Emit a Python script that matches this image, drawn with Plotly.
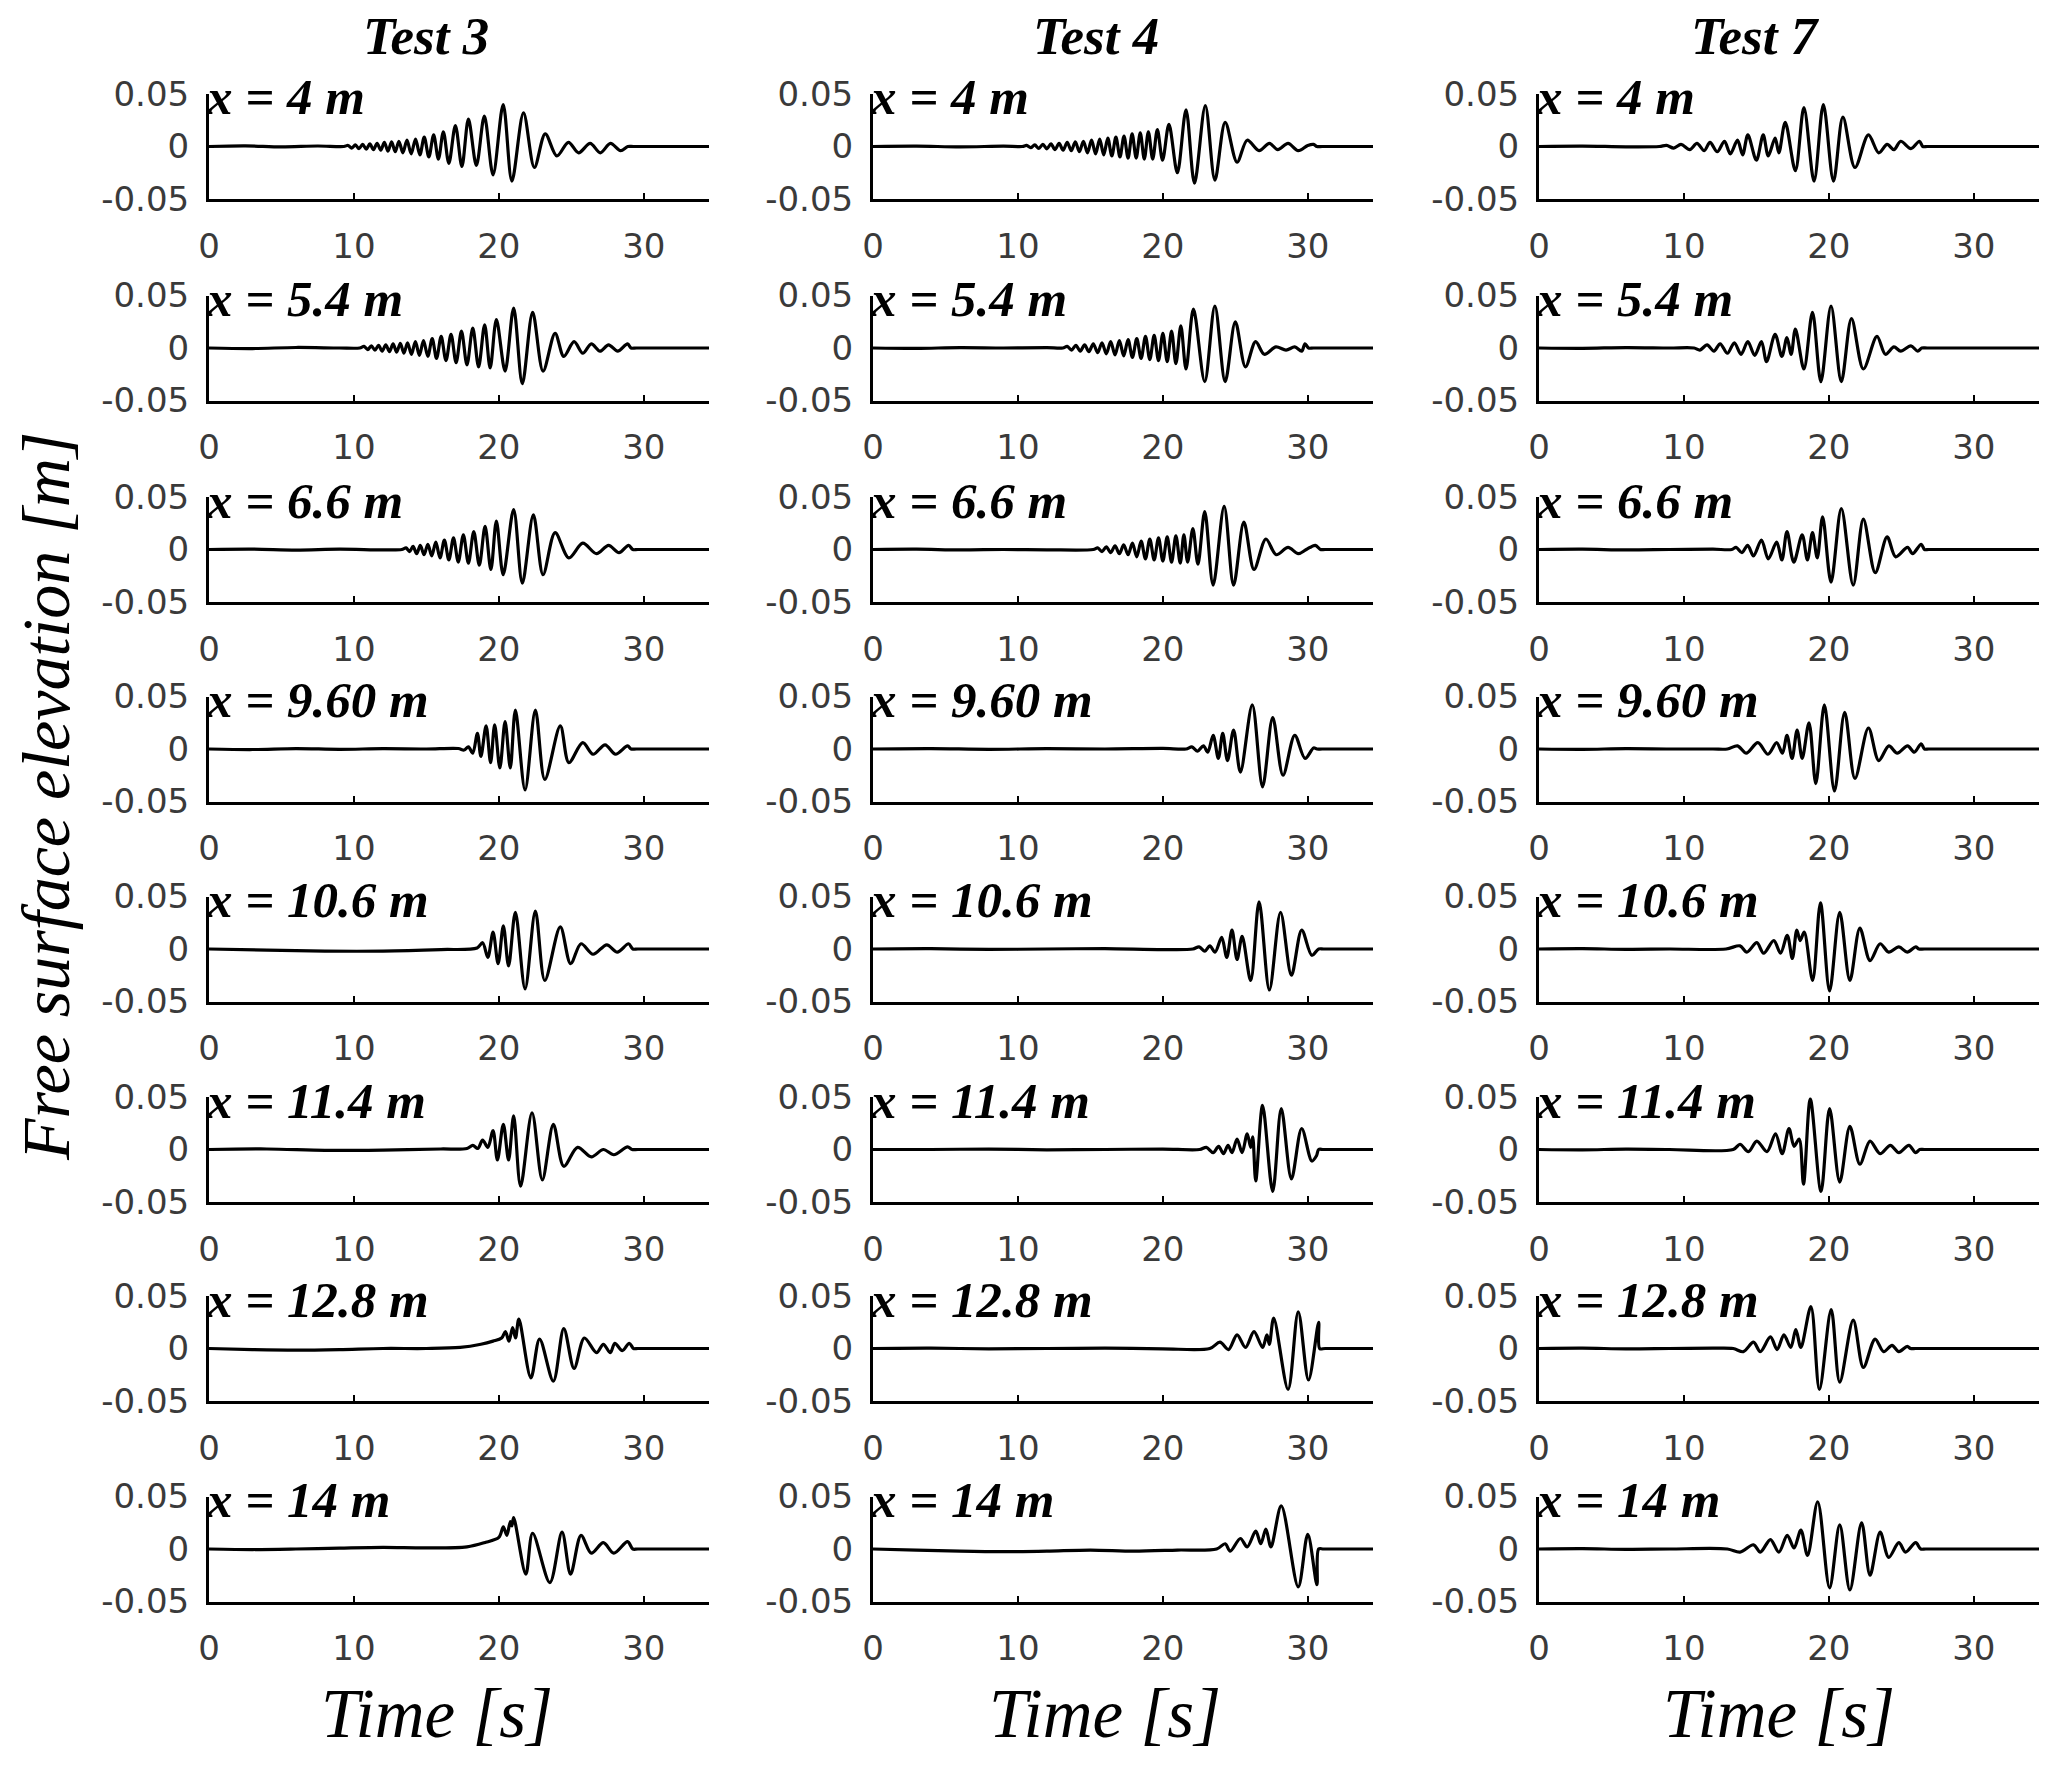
import plotly.graph_objects as go

# ---------------- data: (time [s], free surface elevation [m]) ----------------
TEST_TITLES = ["Test 3", "Test 4", "Test 7"]
GAUGE_LABELS = ["x = 4 m", "x = 5.4 m", "x = 6.6 m", "x = 9.60 m",
                "x = 10.6 m", "x = 11.4 m", "x = 12.8 m", "x = 14 m"]
X_TICKS = [0, 10, 20, 30]
Y_TICKS = [-0.05, 0, 0.05]
Y_TICK_TEXT = ["-0.05", "0", "0.05"]

# ---- Test 3 ----
T3_X4 = [(0, 0), (2.5, 0.0006), (5, -0.0004), (7.5, 0.0005), (9.3, 0), (9.6, 0.001), (9.85, -0.0015),
         (10.1, 0.0015), (10.35, -0.002), (10.6, 0.002), (10.85, -0.0025), (11.1, 0.0025), (11.35, -0.003),
         (11.6, 0.003), (11.85, -0.0035), (12.1, 0.004), (12.35, -0.0045), (12.6, 0.0045), (12.85, -0.005),
         (13.1, 0.005), (13.38, -0.006), (13.66, 0.006), (13.95, -0.007), (14.25, 0.007), (14.55, -0.008),
         (14.85, 0.009), (15.17, -0.010), (15.5, 0.011), (15.83, -0.012), (16.17, 0.014), (16.55, -0.016),
         (17.0, 0.020), (17.45, -0.019), (17.9, 0.026), (18.45, -0.018), (19.0, 0.029), (19.6, -0.027),
         (20.3, 0.040), (20.9, -0.033), (21.7, 0.032), (22.45, -0.020), (23.2, 0.012), (24.0, -0.009),
         (24.8, 0.004), (25.5, -0.006), (26.3, 0.003), (27.0, -0.006), (27.7, 0.003), (28.4, -0.004),
         (28.9, 0), (29.3, 0), (35, 0)]
T3_X5_4 = [(0, 0), (3, -0.0005), (6, 0.0005), (9, 0), (10.4, 0), (10.7, 0.0015), (10.95, -0.0015),
           (11.2, 0.002), (11.45, -0.002), (11.7, 0.0025), (11.95, -0.003), (12.2, 0.003), (12.45, -0.0035),
           (12.7, 0.004), (12.95, -0.004), (13.2, 0.0045), (13.45, -0.005), (13.7, 0.005), (13.97, -0.006),
           (14.24, 0.006), (14.52, -0.007), (14.8, 0.007), (15.1, -0.008), (15.4, 0.009), (15.7, -0.010),
           (16.02, 0.011), (16.35, -0.012), (16.7, 0.013), (17.05, -0.014), (17.42, 0.016), (17.8, -0.016),
           (18.2, 0.019), (18.6, -0.018), (19.02, 0.022), (19.4, -0.019), (19.83, 0.027), (20.43, -0.022),
           (21.02, 0.038), (21.62, -0.034), (22.33, 0.034), (23.05, -0.022), (23.88, 0.014), (24.48, -0.008),
           (25.19, 0.006), (25.79, -0.005), (26.38, 0.004), (26.98, -0.003), (27.57, 0.003), (28.2, -0.003),
           (28.88, 0.004), (29.12, 0), (29.5, 0), (35, 0)]
T3_X6_6 = [(0, 0), (3, 0.0004), (6, -0.0005), (9, 0.0003), (12, -0.0003), (13.3, 0), (13.6, 0.0015),
           (13.84, -0.002), (14.08, 0.003), (14.33, -0.004), (14.58, 0.004), (14.84, -0.005), (15.1, 0.005),
           (15.37, -0.006), (15.65, 0.007), (15.94, -0.008), (16.24, 0.009), (16.55, -0.010), (16.87, 0.011),
           (17.2, -0.012), (17.55, 0.014), (17.9, -0.013), (18.27, 0.017), (18.65, -0.015), (19.05, 0.022),
           (19.45, -0.019), (19.83, 0.027), (20.3, -0.024), (21.02, 0.038), (21.62, -0.032), (22.38, 0.033),
           (23.05, -0.024), (23.88, 0.016), (24.83, -0.008), (25.79, 0.006), (26.74, -0.004), (27.57, 0.004),
           (28.29, -0.003), (28.95, 0.004), (29.24, 0), (29.6, 0), (35, 0)]
T3_X9_6 = [(0, 0), (3, -0.0005), (6, 0.0004), (9, -0.0003), (12, 0.0003), (15, 0), (17.2, 0.0005),
           (17.6, -0.001), (17.9, 0.002), (18.2, -0.004), (18.52, 0.015), (18.76, -0.007), (19.12, 0.022),
           (19.43, -0.013), (19.71, 0.023), (20.07, -0.018), (20.43, 0.026), (20.79, -0.018), (21.14, 0.037),
           (21.81, -0.039), (22.52, 0.037), (23.17, -0.029), (24.24, 0.022), (24.83, -0.013), (25.79, 0.006),
           (26.5, -0.005), (27.33, 0.004), (28.05, -0.005), (28.88, 0.003), (29.12, 0), (29.5, 0), (35, 0)]
T3_X10_6 = [(0, 0), (4, -0.001), (8, -0.002), (12, -0.002), (16, -0.0005), (18.5, 0.001), (18.88, 0.006),
            (19.24, -0.008), (19.6, 0.016), (19.95, -0.014), (20.31, 0.022), (20.67, -0.016), (21.14, 0.035),
            (21.81, -0.038), (22.52, 0.036), (23.17, -0.030), (24.24, 0.021), (24.95, -0.014), (25.67, 0.005),
            (26.5, -0.005), (27.45, 0.004), (28.17, -0.003), (28.95, 0.005), (29.24, 0), (29.6, 0), (35, 0)]
T3_X11_4 = [(0, 0), (4, 0.0005), (8, -0.0008), (12, -0.0005), (16, 0.0005), (17.8, 0.001), (18.2, 0.004),
            (18.55, 0.001), (18.88, 0.009), (19.24, 0.002), (19.6, 0.018), (19.9, -0.010), (20.31, 0.024),
            (20.67, -0.010), (21.02, 0.032), (21.5, -0.035), (22.29, 0.035), (23.0, -0.029), (23.76, 0.024),
            (24.48, -0.016), (25.43, 0.002), (26.38, -0.007), (27.21, 0.0), (27.93, -0.005), (28.88, 0.0025),
            (29.19, 0), (29.6, 0), (35, 0)]
T3_X12_8 = [(0, 0), (3, -0.001), (6, -0.0015), (9, -0.001), (12, 0), (15, 0), (17.33, 0.001), (18.76, 0.004),
            (19.6, 0.007), (20.19, 0.010), (20.45, 0.016), (20.7, 0.007), (20.95, 0.020), (21.15, 0.010),
            (21.38, 0.028), (22.21, -0.028), (22.81, 0.009), (23.76, -0.031), (24.48, 0.019), (25.19, -0.019),
            (25.9, 0.010), (26.74, -0.004), (27.21, 0.004), (27.69, -0.004), (28.0, 0.005), (28.52, -0.002),
            (29.0, 0.005), (29.29, 0), (29.6, 0), (35, 0)]
T3_X14 = [(0, 0), (3, -0.0005), (6, 0), (9, 0.0008), (12, 0.0015), (15, 0.001), (17.8, 0.002), (19.0, 0.006),
          (20.0, 0.011), (20.31, 0.021), (20.55, 0.013), (20.79, 0.026), (20.9, 0.022), (21.02, 0.030),
          (21.86, -0.024), (22.33, 0.015), (23.52, -0.032), (24.36, 0.016), (24.95, -0.024), (25.67, 0.013),
          (26.38, -0.004), (27.21, 0.006), (27.93, -0.004), (28.88, 0.007), (29.24, 0), (29.6, 0), (35, 0)]

# ---- Test 4 ----
T4_X4 = [(0, 0), (3, 0.0004), (6, -0.0004), (9, 0.0003), (10.3, 0), (10.6, 0.001), (10.88, -0.0012),
         (11.16, 0.0015), (11.44, -0.0018), (11.72, 0.002), (12.0, -0.0022), (12.28, 0.0025), (12.56, -0.003),
         (12.84, 0.003), (13.12, -0.0035), (13.4, 0.004), (13.68, -0.004), (13.96, 0.0045), (14.24, -0.005),
         (14.52, 0.005), (14.8, -0.006), (15.08, 0.006), (15.36, -0.007), (15.64, 0.007), (15.92, -0.008),
         (16.2, 0.008), (16.48, -0.009), (16.76, 0.009), (17.04, -0.010), (17.32, 0.010), (17.6, -0.011),
         (17.88, 0.012), (18.16, -0.011), (18.44, 0.013), (18.72, -0.012), (19.0, 0.014), (19.3, -0.012),
         (19.62, 0.016), (19.98, -0.013), (20.42, 0.021), (21.0, -0.025), (21.6, 0.035), (22.18, -0.035),
         (22.93, 0.039), (23.59, -0.032), (24.3, 0.023), (25.12, -0.015), (25.82, 0.006), (26.64, -0.004),
         (27.35, 0.003), (27.93, -0.003), (28.64, 0.003), (29.34, -0.004), (30.0, 0.001), (30.4, 0.002),
         (30.63, 0), (31, 0), (35, 0)]
T4_X5_4 = [(0, 0), (3, -0.0004), (6, 0.0004), (9, 0), (12, 0.0003), (13.1, 0), (13.4, 0.0015), (13.7, -0.002),
           (14.0, 0.0025), (14.3, -0.003), (14.6, 0.003), (14.9, -0.0035), (15.2, 0.004), (15.5, -0.0045),
           (15.8, 0.005), (16.1, -0.0055), (16.4, 0.006), (16.7, -0.0065), (17.0, 0.007), (17.3, -0.0075),
           (17.6, 0.008), (17.9, -0.009), (18.2, 0.009), (18.5, -0.010), (18.8, 0.011), (19.1, -0.011),
           (19.4, 0.012), (19.7, -0.012), (20.0, 0.014), (20.3, -0.013), (20.6, 0.016), (20.9, -0.015),
           (21.24, 0.021), (21.6, -0.020), (22.11, 0.037), (22.89, -0.032), (23.59, 0.040), (24.3, -0.032),
           (25.0, 0.025), (25.7, -0.018), (26.4, 0.006), (27.0, -0.006), (27.8, 0.001), (28.5, -0.002),
           (29.1, 0.001), (29.58, -0.003), (29.81, 0.004), (30.05, 0), (30.4, 0), (35, 0)]
T4_X6_6 = [(0, 0), (3, 0.0003), (6, -0.0004), (9, 0), (12, -0.0003), (15.2, 0), (15.5, 0.0015), (15.8, -0.002),
           (16.1, 0.0025), (16.4, -0.003), (16.7, 0.0035), (17.0, -0.004), (17.3, 0.0045), (17.6, -0.005),
           (17.9, 0.006), (18.2, -0.007), (18.5, 0.008), (18.8, -0.009), (19.1, 0.010), (19.4, -0.010),
           (19.7, 0.011), (20.0, -0.011), (20.3, 0.012), (20.6, -0.012), (20.9, 0.013), (21.2, -0.013),
           (21.45, 0.014), (21.71, -0.012), (22.07, 0.020), (22.42, -0.014), (22.89, 0.036), (23.47, -0.034),
           (24.23, 0.041), (24.88, -0.034), (25.59, 0.026), (26.29, -0.019), (27.11, 0.010), (27.82, -0.005),
           (28.64, 0.002), (29.34, -0.004), (29.9, 0), (30.52, 0.004), (30.87, 0), (31.2, 0), (35, 0)]
T4_X9_6 = [(0, 0), (4, 0.0004), (8, -0.0003), (12, 0.0003), (16, 0), (20, 0.0005), (21.6, 0), (22.0, 0.002),
           (22.4, -0.002), (22.8, 0.003), (23.1, -0.003), (23.47, 0.013), (23.83, -0.009), (24.13, 0.015),
           (24.46, -0.011), (24.88, 0.018), (25.35, -0.022), (26.17, 0.042), (26.88, -0.036), (27.58, 0.030),
           (28.29, -0.025), (29.1, 0.013), (29.81, -0.009), (30.4, 0.001), (30.63, 0), (31, 0), (35, 0)]
T4_X10_6 = [(0, 0), (4, 0.0003), (8, -0.0004), (12, 0), (16, 0.0003), (20, -0.0005), (22.07, 0), (22.5, 0.002),
            (22.9, -0.002), (23.24, 0.003), (23.6, -0.003), (24.06, 0.011), (24.41, -0.008), (24.77, 0.018),
            (25.12, -0.010), (25.47, 0.012), (26.06, -0.030), (26.64, 0.045), (27.35, -0.039), (28.12, 0.035),
            (28.87, -0.025), (29.58, 0.018), (30.28, -0.006), (30.75, 0), (31.1, 0), (35, 0)]
T4_X11_4 = [(0, 0), (4, 0), (8, 0.0004), (12, -0.0003), (16, 0), (20, 0.0004), (22.54, 0), (23.0, 0.002),
            (23.47, -0.003), (23.85, 0.003), (24.18, -0.004), (24.5, 0.004), (24.77, -0.003), (25.12, 0.010),
            (25.47, -0.003), (25.82, 0.015), (26.06, 0.002), (26.2, 0.012), (26.41, -0.030), (26.88, 0.042),
            (27.58, -0.040), (28.17, 0.039), (28.87, -0.028), (29.58, 0.020), (30.28, -0.011), (30.6, -0.006),
            (30.75, 0), (31.1, 0), (35, 0)]
T4_X12_8 = [(0, 0), (4, 0.0003), (8, -0.0003), (12, 0), (16, 0.0003), (20, -0.0003), (23.24, 0), (23.94, 0.006),
            (24.53, -0.001), (25.12, 0.013), (25.7, 0.001), (26.29, 0.016), (26.88, 0.001), (27.18, 0.013),
            (27.35, 0.004), (27.65, 0.029), (28.64, -0.039), (29.34, 0.035), (30.05, -0.030), (30.75, 0.025),
            (30.82, 0), (31.2, 0), (35, 0)]
T4_X14 = [(0, 0), (3, -0.001), (6, -0.002), (9, -0.0025), (12, -0.002), (15, -0.001), (18, -0.002), (21, -0.001),
          (23.71, 0), (24.3, 0.005), (24.65, -0.002), (25.35, 0.010), (25.82, 0.002), (26.41, 0.017),
          (26.76, 0.005), (27.11, 0.019), (27.46, 0.002), (28.17, 0.041), (29.34, -0.036), (30.0, 0.014),
          (30.63, -0.034), (30.75, 0), (31.1, 0), (35, 0)]

# ---- Test 7 ----
T7_X4 = [(0, 0), (3, 0.0004), (6, -0.0003), (8.3, 0), (8.8, 0.001), (9.3, -0.0015), (9.8, 0.002), (10.4, -0.003),
         (10.9, 0.003), (11.4, -0.004), (11.8, 0.004), (12.3, -0.005), (12.8, 0.005), (13.2, -0.007), (13.7, 0.006),
         (14.05, -0.008), (14.41, 0.011), (15.0, -0.013), (15.47, 0.011), (15.82, -0.009), (16.29, 0.008),
         (16.55, -0.006), (16.99, 0.023), (17.69, -0.023), (18.28, 0.037), (18.98, -0.033), (19.62, 0.040),
         (20.32, -0.033), (20.97, 0.028), (21.8, -0.020), (22.73, 0.011), (23.44, -0.006), (24.02, 0.002),
         (24.49, -0.003), (24.96, 0.005), (25.66, -0.002), (26.25, 0.005), (26.48, 0), (26.8, 0), (35, 0)]
T7_X5_4 = [(0, 0), (3, -0.0003), (6, 0.0004), (9, 0), (10.7, 0), (11.1, -0.002), (11.6, 0.003), (12.07, -0.003),
           (12.5, 0.004), (13.0, -0.005), (13.48, 0.005), (13.94, -0.006), (14.41, 0.006), (14.88, -0.007),
           (15.35, 0.006), (15.7, -0.013), (16.29, 0.013), (16.76, -0.008), (17.11, 0.010), (17.4, -0.006),
           (17.69, 0.018), (18.28, -0.020), (18.87, 0.034), (19.45, -0.032), (20.15, 0.040), (20.86, -0.032),
           (21.56, 0.028), (22.38, -0.020), (23.32, 0.011), (23.9, -0.006), (24.49, 0.001), (24.96, -0.003),
           (25.66, 0.002), (26.13, -0.003), (26.41, 0), (26.8, 0), (35, 0)]
T7_X6_6 = [(0, 0), (3, 0.0003), (6, -0.0004), (9, 0), (12, 0.0003), (13.3, 0), (13.6, 0.002), (14.0, -0.003),
           (14.4, 0.004), (14.8, -0.006), (15.35, 0.009), (15.82, -0.009), (16.4, 0.007), (16.76, -0.010),
           (17.11, 0.017), (17.58, -0.012), (18.16, 0.014), (18.52, -0.010), (18.87, 0.016), (19.2, -0.008),
           (19.57, 0.031), (20.15, -0.031), (20.86, 0.039), (21.68, -0.034), (22.38, 0.029), (23.2, -0.022),
           (24.02, 0.012), (24.61, -0.007), (25.43, 0.002), (25.78, -0.004), (26.37, 0.005), (26.6, 0),
           (26.9, 0), (35, 0)]
T7_X9_6 = [(0, 0), (3, -0.0003), (6, 0.0003), (9, 0), (12, 0), (13.0, 0), (13.7, 0.003), (14.3, -0.004),
           (15.1, 0.006), (15.8, -0.005), (16.4, 0.006), (16.8, -0.004), (17.11, 0.013), (17.46, -0.009),
           (17.81, 0.018), (18.16, -0.009), (18.63, 0.025), (19.1, -0.033), (19.69, 0.042), (20.39, -0.040),
           (21.09, 0.035), (21.8, -0.028), (22.73, 0.020), (23.44, -0.011), (24.14, 0.003), (24.72, -0.004),
           (25.43, 0.003), (25.9, -0.003), (26.37, 0.005), (26.6, 0), (26.9, 0), (35, 0)]
T7_X10_6 = [(0, 0), (3, 0.0003), (6, -0.0003), (9, 0), (12.9, 0), (13.87, 0.003), (14.34, -0.003), (15.03, 0.006),
            (15.5, -0.004), (16.2, 0.008), (16.67, -0.004), (17.13, 0.013), (17.48, -0.009), (17.79, 0.018),
            (18.02, 0.008), (18.3, 0.016), (18.88, -0.030), (19.42, 0.044), (20.05, -0.040), (20.75, 0.035),
            (21.45, -0.030), (22.14, 0.020), (22.84, -0.011), (23.54, 0.005), (24.13, -0.003), (24.83, 0.002),
            (25.41, -0.003), (25.99, 0.002), (26.22, 0), (26.6, 0), (35, 0)]
T7_X11_4 = [(0, 0), (3, -0.0003), (6, 0.0003), (9, 0), (13.4, 0), (13.87, 0.005), (14.45, -0.002), (15.03, 0.008),
            (15.73, -0.002), (16.32, 0.015), (16.78, -0.004), (17.25, 0.020), (17.6, 0.003), (17.95, 0.010),
            (18.25, -0.033), (18.72, 0.048), (19.46, -0.040), (20.05, 0.039), (20.75, -0.031), (21.45, 0.022),
            (22.14, -0.014), (22.84, 0.008), (23.54, -0.004), (24.24, 0.004), (24.83, -0.003), (25.52, 0.004),
            (25.99, -0.003), (26.27, 0), (26.6, 0), (35, 0)]
T7_X12_8 = [(0, 0), (3, 0.0003), (6, -0.0003), (9, 0), (12, 0.0003), (13.4, 0), (14.1, -0.003), (14.8, 0.006),
            (15.27, -0.003), (15.97, 0.011), (16.43, -0.001), (16.9, 0.013), (17.37, 0.001), (17.72, 0.018),
            (18.07, 0.001), (18.76, 0.040), (19.35, -0.039), (20.16, 0.037), (20.75, -0.032), (21.68, 0.027),
            (22.38, -0.018), (23.19, 0.009), (23.78, -0.003), (24.36, 0.003), (24.83, -0.003), (25.41, 0.002),
            (25.64, 0), (26.0, 0), (35, 0)]
T7_X14 = [(0, 0), (3, 0.0003), (6, -0.0003), (9, 0), (13.0, 0), (13.87, -0.003), (14.8, 0.004), (15.27, -0.003),
          (15.97, 0.009), (16.55, -0.003), (17.13, 0.013), (17.6, 0.001), (18.07, 0.018), (18.53, -0.006),
          (19.23, 0.045), (20.05, -0.037), (20.75, 0.023), (21.45, -0.039), (22.26, 0.025), (22.84, -0.025),
          (23.54, 0.016), (24.13, -0.008), (24.83, 0.006), (25.29, -0.003), (25.99, 0.006), (26.34, 0),
          (26.7, 0), (35, 0)]

SERIES = [
    [T3_X4, T3_X5_4, T3_X6_6, T3_X9_6, T3_X10_6, T3_X11_4, T3_X12_8, T3_X14],
    [T4_X4, T4_X5_4, T4_X6_6, T4_X9_6, T4_X10_6, T4_X11_4, T4_X12_8, T4_X14],
    [T7_X4, T7_X5_4, T7_X6_6, T7_X9_6, T7_X10_6, T7_X11_4, T7_X12_8, T7_X14],
]

# ---------------- layout geometry (pixels of the 2067 x 1770 page) ----------------
W, H = 2067, 1770
PAGE_OFFSET = 8          # the browser's default body margin shifts the figure by this much
X_MAX = 34.5
COL_PX = [(209, 709), (873, 1373), (1539, 2039)]
ROW_ZERO_PX = [146.5, 348, 549.5, 749, 949, 1149.5, 1348.5, 1549]
HALF_PX = 52.5
TITLE_X_PX = [426, 1096, 1755]
XLABEL_X_PX = [437, 1105, 1779]


def px_x(p):
    return (p - PAGE_OFFSET) / W


def px_y(p):
    return 1 - (p - PAGE_OFFSET) / H


fig = go.Figure()
layout = dict(
    template="none",
    width=W, height=H, margin=dict(l=0, r=0, t=0, b=0, pad=0, autoexpand=False),
    paper_bgcolor="white", plot_bgcolor="white", showlegend=False,
)
annotations = []
tick_font = dict(family="DejaVu Sans", size=34, color="#3a3a3a")

k = 0
for c in range(3):
    for r in range(8):
        k += 1
        xa = "x" if k == 1 else f"x{k}"
        ya = "y" if k == 1 else f"y{k}"
        pts = SERIES[c][r]
        t_vals = [p[0] for p in pts]
        e_vals = [p[1] for p in pts]
        fig.add_trace(go.Scatter(
            x=t_vals, y=e_vals, mode="lines", xaxis=xa, yaxis=ya,
            line=dict(color="black", width=3.2, shape="spline", smoothing=0.9),
            hoverinfo="skip",
        ))
        x0, x1 = COL_PX[c]
        z = ROW_ZERO_PX[r]
        layout["xaxis" if k == 1 else f"xaxis{k}"] = dict(
            domain=[px_x(x0), px_x(x1)], anchor=ya, range=[0, X_MAX], automargin=False,
            showline=True, linecolor="black", linewidth=3, mirror=False,
            ticks="inside", ticklen=6, tickwidth=2, tickcolor="black",
            tickvals=X_TICKS, tickfont=tick_font, ticklabelstandoff=15,
            showgrid=False, zeroline=False, fixedrange=True,
        )
        layout["yaxis" if k == 1 else f"yaxis{k}"] = dict(
            domain=[px_y(z + HALF_PX), px_y(z - HALF_PX)], anchor=xa, range=[-0.05, 0.05], automargin=False,
            showline=True, linecolor="black", linewidth=3, mirror=False,
            ticks="inside", ticklen=5, tickwidth=2, tickcolor="black",
            tickvals=Y_TICKS, ticktext=Y_TICK_TEXT, tickfont=tick_font, ticklabelstandoff=10,
            showgrid=False, zeroline=False, fixedrange=True,
        )
        annotations.append(dict(
            text=f"<b><i>{GAUGE_LABELS[r]}</i></b>", xref="paper", yref="paper",
            x=px_x(x0 - 5), y=px_y(z - 49), xanchor="left", yanchor="middle", showarrow=False,
            font=dict(family="Liberation Serif", size=51, color="black"),
        ))
    annotations.append(dict(
        text=f"<b><i>{TEST_TITLES[c]}</i></b>", xref="paper", yref="paper",
        x=px_x(TITLE_X_PX[c]), y=px_y(36), xanchor="center", yanchor="middle", showarrow=False,
        font=dict(family="Liberation Serif", size=53, color="black"),
    ))
    annotations.append(dict(
        text="<i>Time [s]</i>", xref="paper", yref="paper",
        x=px_x(XLABEL_X_PX[c]), y=px_y(1714), xanchor="center", yanchor="middle", showarrow=False,
        font=dict(family="Liberation Serif", size=69, color="black"),
    ))

annotations.append(dict(
    text="<i>Free surface elevation [m]</i>", xref="paper", yref="paper",
    x=px_x(46), y=px_y(797), xanchor="center", yanchor="middle", textangle=-90, showarrow=False,
    font=dict(family="Liberation Serif", size=68, color="black"),
))
layout["annotations"] = annotations
fig.update_layout(**layout)
fig.write_html("out.html")
